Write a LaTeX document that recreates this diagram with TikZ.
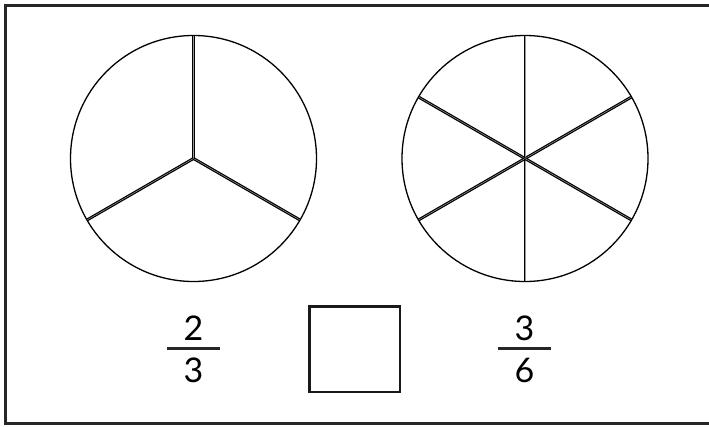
\documentclass[tikz,border=0pt]{standalone}
\usepackage{fontspec}
\setmainfont{Lato}
\tikzset{
  rim/.style={line width=1.3pt},
  spoke/.style={line width=1.2pt, double=black!40, double distance=0.5pt},
  digit/.style={inner sep=0pt, font=\fontsize{34}{40}\selectfont},
  fracbar/.style={line width=2.6pt, black!85},
  answerbox/.style={draw, line width=2.6pt, black!90, minimum width=90.5pt, minimum height=85.5pt, inner sep=0pt}
}
\begin{document}
\begin{tikzpicture}[x=1pt,y=-1pt]
  \useasboundingbox (0,0) rectangle (709,426);
  \clip (0,0) rectangle (709,426);
  \draw[line width=2.6pt, black!85] (5.5,5.5) rectangle (716,423.5);

  \coordinate (L) at (193.5,158.5);
  \coordinate (R) at (525,158.5);

  \draw[rim] (L) circle (123pt);
  \draw[rim] (R) circle (123pt);

  \foreach \a in {90,210,330}{
      \draw[spoke] (L) -- ++(\a:122.5pt);
    }
  \foreach \a in {30,90,...,330}{
      \draw[spoke] (R) -- ++(\a:122.5pt);
    }

  % fractions
  \node[digit] (num1) at (193.5,328.5) {2};
  \node[digit] (den1) at (193.5,370.5) {3};
  \coordinate (bar1) at (193.5,348.5);
  \draw[fracbar] ([xshift=-26.5pt]bar1) -- ([xshift=26.5pt]bar1);

  \node[digit] (num2) at (524.5,328.5) {3};
  \node[digit] (den2) at (524.5,370.5) {6};
  \coordinate (bar2) at (524.5,348.5);
  \draw[fracbar] ([xshift=-26.5pt]bar2) -- ([xshift=26.5pt]bar2);

  \node[answerbox] (answer) at (354.75,349.25) {};
\end{tikzpicture}
\end{document}
